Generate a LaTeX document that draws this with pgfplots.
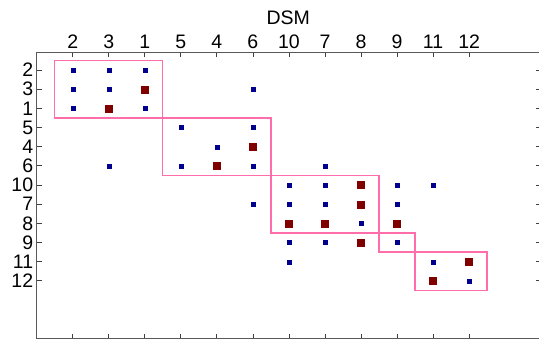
\documentclass[border=0pt]{standalone}
\usepackage{fontspec}
\setmainfont{Liberation Sans}
\usepackage{pgfplots}
\pgfplotsset{compat=1.18}
\definecolor{dsmblue}{RGB}{0,0,140}
\definecolor{dsmred}{RGB}{128,0,0}
\definecolor{dsmpink}{RGB}{255,110,170}
\begin{document}
\begin{tikzpicture}
\begin{axis}[
  x=36pt, y=19.15pt, y dir=reverse,
  xmin=0, xmax=14, ymin=0.08, ymax=15.03,
  axis line style={black!65, line width=1pt},
  xtick={1,...,12}, xticklabels={2,3,1,5,4,6,10,7,8,9,11,12},
  ytick={1,...,12}, yticklabels={2,3,1,5,4,6,10,7,8,9,11,12},
  xticklabel pos=upper, yticklabel pos=left,
  tick align=inside, major tick length=5pt,
  tick style={black!75, line width=0.8pt},
  ticklabel style={font=\fontsize{19.5}{22}\selectfont},
  /pgf/number format/assume math mode=true,
  clip=false,
]
\addplot[only marks, mark=square*, mark size=2pt, draw=dsmblue, fill=dsmblue] coordinates {
(1,1) (2,1) (3,1)
(1,2) (2,2) (6,2)
(1,3) (3,3)
(4,4) (6,4)
(5,5)
(2,6) (4,6) (6,6) (8,6)
(7,7) (8,7) (10,7) (11,7)
(6,8) (7,8) (8,8) (10,8)
(9,9)
(7,10) (8,10) (10,10)
(7,11) (11,11)
(12,12)
};
\addplot[only marks, mark=square*, mark size=3.5pt, draw=dsmred, fill=dsmred] coordinates {
(3,2) (2,3) (6,5) (5,6) (9,7) (9,8) (7,9) (8,9) (10,9) (9,10) (12,11) (11,12)
};
\addplot[dsmpink, line width=1.3pt, line join=miter] coordinates {(0.5,0.5) (3.5,0.5) (3.5,3.5) (0.5,3.5) (0.5,0.5)};
\addplot[dsmpink, line width=1.3pt, line join=miter] coordinates {(3.5,3.5) (6.5,3.5) (6.5,6.5) (3.5,6.5) (3.5,3.5)};
\addplot[dsmpink, line width=1.3pt, line join=miter] coordinates {(6.5,6.5) (9.5,6.5) (9.5,9.5) (6.5,9.5) (6.5,6.5)};
\addplot[dsmpink, line width=1.3pt, line join=miter] coordinates {(9.5,9.5) (10.5,9.5) (10.5,10.5) (9.5,10.5) (9.5,9.5)};
\addplot[dsmpink, line width=1.3pt, line join=miter] coordinates {(10.5,10.5) (12.5,10.5) (12.5,12.5) (10.5,12.5) (10.5,10.5)};
\node[font=\fontsize{19.5}{22}\selectfont] at (axis cs:6.98,-1.73) {DSM};
\coordinate (bbsw) at (axis cs:-1.019,15.15);
\coordinate (bbne) at (axis cs:13.94,-2.655);
\end{axis}
\pgfresetboundingbox
\path[use as bounding box] (bbsw) rectangle (bbne);
\end{tikzpicture}
\end{document}
